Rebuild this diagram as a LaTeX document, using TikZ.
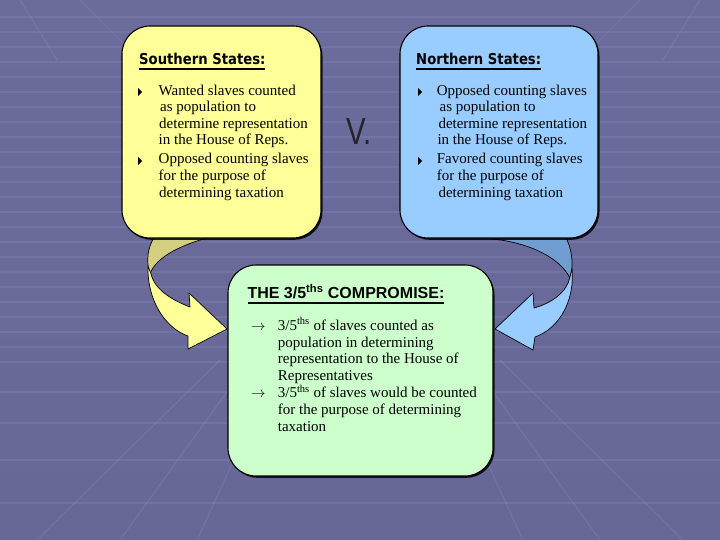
\documentclass[tikz,border=0pt]{standalone}
\usepackage{fontspec}
\setmainfont{Liberation Serif}
\newfontfamily\headfont[FakeStretch=0.88]{DejaVu Sans}
\newfontfamily\arialfont{Liberation Sans}
\usetikzlibrary{shadows}
\definecolor{bgtop}{RGB}{108,108,156}
\definecolor{bgmid}{RGB}{86,86,136}
\definecolor{bgbot}{RGB}{104,104,152}
\definecolor{gridc}{RGB}{140,140,185}
\definecolor{yel}{RGB}{255,255,153}
\definecolor{yeldark}{RGB}{212,206,128}
\definecolor{blu}{RGB}{153,204,255}
\definecolor{bludark}{RGB}{112,158,208}
\definecolor{grn}{RGB}{204,255,204}
\definecolor{vgray}{RGB}{36,36,44}
\newcommand\ulbox[1]{\setbox0\hbox{#1}\rlap{\rule[-5pt]{\wd0}{1.6pt}}\box0}
\tikzset{
  panel/.style={draw=black, line width=1.1pt, rounded corners=28pt, inner sep=0pt,
    drop shadow={shadow xshift=1.5pt, shadow yshift=-1.8pt, fill=black, opacity=0.85}},
  head/.style={anchor=base west, inner sep=0pt, font=\headfont\bfseries\fontsize{15}{18}\selectfont},
  chead/.style={anchor=base west, inner sep=0pt, font=\arialfont\bfseries\fontsize{16}{19}\selectfont},
  body/.style={anchor=base west, inner sep=0pt, font=\fontsize{15}{17}\selectfont},
  arr/.style={draw=black, line width=0.7pt, line join=round},
  gridline/.style={gridc, line width=1.3pt, opacity=0.3},
  tri/.style={fill=black}
}
\begin{document}
\begin{tikzpicture}[x=1pt, y=-1pt]
\useasboundingbox (0,0) rectangle (720,540);
% background
\shade[top color=bgtop, middle color=bgmid, bottom color=bgbot] (0,0) rectangle (720,540);
\foreach \yy in {17,32,47,62,77,92,107,122,137,152,167,182,197,212,227,242,257,272,287,302,317,332,347,362,392,423,460,503}
  \draw[gridline] (0,\yy) -- (720,\yy);
\foreach \xa/\xb in {440/523, 470/600, 500/683, 280/197, 250/120, 220/37}
  \draw[gridline] (\xa,360) -- (\xb,540);
\foreach \xa/\xb in {20/57, 80/140, 700/663, 640/580}
  \draw[gridline] (\xa,0) -- (\xb,60);

% curved arrows (drawn before the panels so the panels cover their roots)
\draw[arr, fill=yeldark] (155,236) -- (215,236) .. controls (185,243) and (156,256) .. (150,274)
   .. controls (146,262) and (147,248) .. (155,236) -- cycle;
\draw[arr, fill=yel] (148,266) .. controls (147,300) and (165,328) .. (188,336) -- (188,349) -- (227,329)
   -- (189,293) -- (190,307) .. controls (172,300) and (155,290) .. (151,274) -- cycle;
\draw[arr, fill=bludark] (493,236) -- (565,236) .. controls (572,248) and (574,265) .. (570,278)
   .. controls (560,258) and (530,243) .. (493,239) -- cycle;
\draw[arr, fill=blu] (572,268) .. controls (575,300) and (560,328) .. (535,337) -- (533,350) -- (495,329)
   -- (533,293) -- (534,308) .. controls (552,303) and (567,292) .. (570,277) -- cycle;

% panels
\node[panel, fill=yel, minimum width=199pt, minimum height=212pt] (south) at (221.5,132) {};
\node[panel, fill=blu, minimum width=198pt, minimum height=212pt] (north) at (499,132) {};
\node[panel, fill=grn, minimum width=265pt, minimum height=211pt] (comp) at (360.5,370.5) {};

% V.
\node[anchor=base west, inner sep=0pt, text=vgray, font=\arialfont\fontsize{37.7}{40}\selectfont] (vs) at (346,145) {\scalebox{0.78}[1]{V.}};

% Southern
\node[head] (sh) at (139,65) {\ulbox{Southern States:}};
\fill[tri] (138,88) -- (138,96) -- (142,92) -- cycle;
\fill[tri] (138,157) -- (138,165) -- (142,161) -- cycle;
\node[body] (s1) at (158.5,95.5) {Wanted slaves counted};
\node[body] (s2) at (160,112) {as population to};
\node[body] (s3) at (159,128.5) {determine representation};
\node[body] (s4) at (158.5,145) {in the House of Reps.};
\node[body] (s5) at (158.5,164) {Opposed counting slaves};
\node[body] (s6) at (158.5,180.5) {for the purpose of};
\node[body] (s7) at (159,197) {determining taxation};

% Northern
\node[head] (nh) at (416,65) {\ulbox{Northern States:}};
\fill[tri] (418,88) -- (418,96) -- (422,92) -- cycle;
\fill[tri] (418,157) -- (418,165) -- (422,161) -- cycle;
\node[body] (n1) at (436.7,95.5) {Opposed counting slaves};
\node[body] (n2) at (439.5,112) {as population to};
\node[body] (n3) at (438.3,128.5) {determine representation};
\node[body] (n4) at (437.3,145) {in the House of Reps.};
\node[body] (n5) at (436.7,164) {Favored counting slaves};
\node[body] (n6) at (436.7,180.5) {for the purpose of};
\node[body] (n7) at (438.3,197) {determining taxation};

% Compromise
\node[chead] (ch) at (247.3,298.5) {\ulbox{THE 3/5\textsuperscript{ths} COMPROMISE:}};
\node[body] (ca) at (251,330) {$\rightarrow$};
\node[body] (cb) at (251,397.5) {$\rightarrow$};
\node[body] (c1) at (277.7,330) {3/5\textsuperscript{ths} of slaves counted as};
\node[body] (c2) at (277.7,347) {population in determining};
\node[body] (c3) at (277.7,363.5) {representation to the House of};
\node[body] (c4) at (277.7,380) {Representatives};
\node[body] (c5) at (277.7,397.5) {3/5\textsuperscript{ths} of slaves would be counted};
\node[body] (c6) at (277.7,414) {for the purpose of determining};
\node[body] (c7) at (277.7,431) {taxation};
\end{tikzpicture}
\end{document}
